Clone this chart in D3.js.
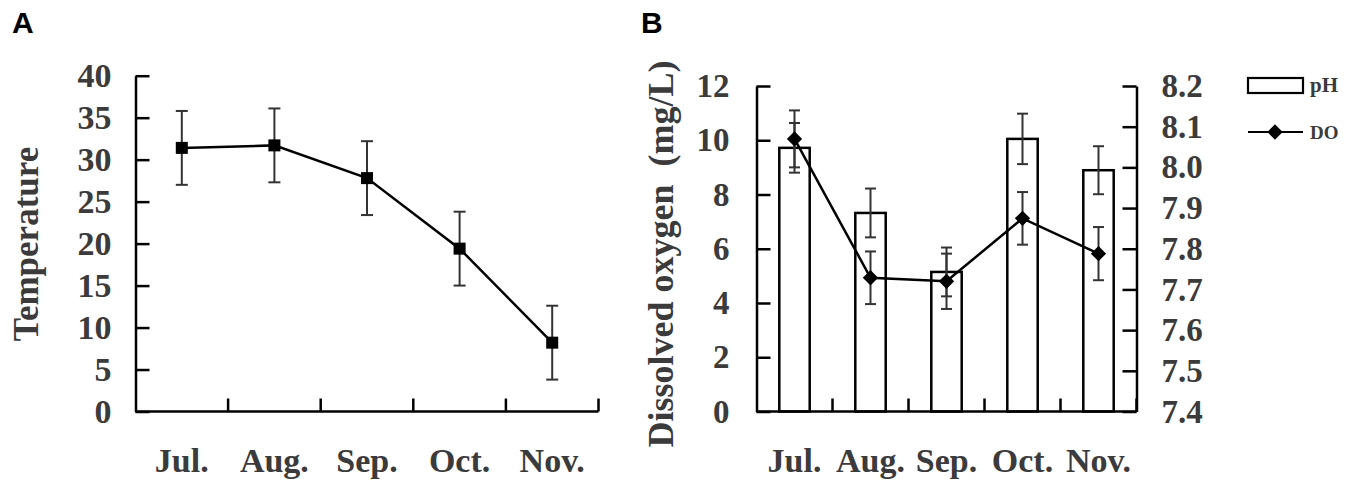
<!DOCTYPE html>
<html>
<head>
<meta charset="utf-8">
<script src="https://cdn.jsdelivr.net/npm/d3@7"></script>
<style>
  body { margin: 0; background: #fff; }
  svg text { font-family: "Liberation Serif", "Times New Roman", serif; font-weight: bold; fill: #3b3b3b; }
  .panel-tag { font-family: "Liberation Sans", Arial, sans-serif !important; fill: #000 !important; }
</style>
</head>
<body>
<div id="chart"></div>
<script>
// Months shared by both panels
var months = ["Jul.", "Aug.", "Sep.", "Oct.", "Nov."];

// Panel A: water temperature
var temperature = [31.4, 31.7, 27.8, 19.4, 8.2];
var temperatureErr = [4.4, 4.4, 4.4, 4.4, 4.4];
var tempTicks = [0, 5, 10, 15, 20, 25, 30, 35, 40];

// Panel B: pH (bars, right axis) and dissolved oxygen (line, left axis)
var pH = [8.048, 7.888, 7.743, 8.070, 7.993];
var pHErr = [0.061, 0.060, 0.060, 0.062, 0.059];
var dissolvedO2 = [10.05, 4.93, 4.80, 7.12, 5.82];
var dissolvedO2Err = [1.05, 0.97, 1.02, 0.97, 0.98];
var doTicks = [0, 2, 4, 6, 8, 10, 12];
var pHTicks = [7.4, 7.5, 7.6, 7.7, 7.8, 7.9, 8.0, 8.1, 8.2];

var svgWidth = 1350;
var svgHeight = 484;

var svg = d3.select("#chart")
  .append("svg")
  .attr("width", svgWidth)
  .attr("height", svgHeight);

var axisColor = "#000";
var errColor = "#333";

function styleAxis(g) {
  g.select(".domain").attr("stroke", axisColor).attr("stroke-width", 2.5);
  g.selectAll(".tick line").attr("stroke", axisColor).attr("stroke-width", 2.5);
  g.selectAll(".tick text").attr("font-size", 34);
}

// draws month labels under the axis and boundary ticks pointing up
function monthAxis(g, xBand, y0) {
  var step = xBand.step();
  var edges = d3.range(months.length + 1).map(i => xBand.range()[0] + i * step);

  g.append("line")
    .attr("x1", xBand.range()[0]).attr("x2", xBand.range()[1])
    .attr("y1", y0).attr("y2", y0)
    .attr("stroke", axisColor).attr("stroke-width", 2.5);

  g.selectAll(".edge")
    .data(edges.slice(1))
    .enter()
    .append("line")
    .attr("x1", d => d).attr("x2", d => d)
    .attr("y1", y0).attr("y2", y0 - 13)
    .attr("stroke", axisColor).attr("stroke-width", 2.5);

  g.selectAll(".mlabel")
    .data(months)
    .enter()
    .append("text")
    .attr("x", d => xBand(d) + xBand.bandwidth() / 2)
    .attr("y", y0 + 60)
    .attr("text-anchor", "middle")
    .attr("font-size", 34)
    .text(d => d);
}

function errorBars(g, xBand, yScale, values, errs, capHalf) {
  values.forEach(function(v, i) {
    var x = xBand(months[i]) + xBand.bandwidth() / 2;
    var top = yScale(v + errs[i]);
    var bot = yScale(v - errs[i]);
    g.append("line").attr("x1", x).attr("x2", x).attr("y1", top).attr("y2", bot)
      .attr("stroke", errColor).attr("stroke-width", 2);
    [top, bot].forEach(function(yy) {
      g.append("line").attr("x1", x - capHalf).attr("x2", x + capHalf).attr("y1", yy).attr("y2", yy)
        .attr("stroke", errColor).attr("stroke-width", 2);
    });
  });
}

// ---------------- Panel A ----------------
var a = { left: 135.5, right: 598.5, top: 75.7, bottom: 411.5 };
var gA = svg.append("g");

svg.append("text")
  .attr("class", "panel-tag")
  .attr("x", 12).attr("y", 33)
  .attr("font-size", 30)
  .text("A");

var xA = d3.scaleBand().domain(months).range([a.left, a.right]);
var yA = d3.scaleLinear().domain([0, 40]).range([a.bottom, a.top]);

var yAxisA = gA.append("g")
  .attr("transform", `translate(${a.left},0)`)
  .call(d3.axisLeft(yA).tickValues(tempTicks).tickSizeInner(-14).tickSizeOuter(0).tickPadding(24));
styleAxis(yAxisA);

monthAxis(gA, xA, a.bottom);

errorBars(gA, xA, yA, temperature, temperatureErr, 6);

var lineA = d3.line()
  .x((d, i) => xA(months[i]) + xA.bandwidth() / 2)
  .y(d => yA(d));

gA.append("path")
  .datum(temperature)
  .attr("d", lineA)
  .attr("fill", "none")
  .attr("stroke", "#000")
  .attr("stroke-width", 2.5);

gA.selectAll(".sq")
  .data(temperature)
  .enter()
  .append("rect")
  .attr("x", (d, i) => xA(months[i]) + xA.bandwidth() / 2 - 6)
  .attr("y", d => yA(d) - 6)
  .attr("width", 12)
  .attr("height", 12)
  .attr("fill", "#000");

gA.append("text")
  .attr("transform", "translate(38, 244) rotate(-90)")
  .attr("text-anchor", "middle")
  .attr("font-size", 35)
  .text("Temperature");

// ---------------- Panel B ----------------
var b = { left: 756.5, right: 1136.5, top: 86, bottom: 411.5 };
var gB = svg.append("g");

svg.append("text")
  .attr("class", "panel-tag")
  .attr("x", 641).attr("y", 33)
  .attr("font-size", 30)
  .text("B");

var xB = d3.scaleBand().domain(months).range([b.left, b.right]);
var yDO = d3.scaleLinear().domain([0, 12]).range([b.bottom, b.top]);
var yPH = d3.scaleLinear().domain([7.4, 8.2]).range([b.bottom, b.top]);
var barW = xB.bandwidth() * 0.4;

// pH bars
gB.selectAll(".bar")
  .data(pH)
  .enter()
  .append("rect")
  .attr("x", (d, i) => xB(months[i]) + xB.bandwidth() / 2 - barW / 2)
  .attr("y", d => yPH(d))
  .attr("width", barW)
  .attr("height", d => b.bottom - yPH(d))
  .attr("fill", "#fff")
  .attr("stroke", "#000")
  .attr("stroke-width", 2.5);

errorBars(gB, xB, yPH, pH, pHErr, 5.5);
errorBars(gB, xB, yDO, dissolvedO2, dissolvedO2Err, 5.5);

var yAxisBL = gB.append("g")
  .attr("transform", `translate(${b.left},0)`)
  .call(d3.axisLeft(yDO).tickValues(doTicks).tickSizeInner(-14).tickSizeOuter(0).tickPadding(27));
styleAxis(yAxisBL);
yAxisBL.selectAll(".tick text").attr("font-size", 33);

var yAxisBR = gB.append("g")
  .attr("transform", `translate(${b.right},0)`)
  .call(d3.axisRight(yPH).tickValues(pHTicks).tickFormat(d3.format(".1f")).tickSizeInner(-14).tickSizeOuter(0).tickPadding(25));
styleAxis(yAxisBR);
yAxisBR.selectAll(".tick text").attr("font-size", 33);

monthAxis(gB, xB, b.bottom);

var lineB = d3.line()
  .x((d, i) => xB(months[i]) + xB.bandwidth() / 2)
  .y(d => yDO(d));

gB.append("path")
  .datum(dissolvedO2)
  .attr("d", lineB)
  .attr("fill", "none")
  .attr("stroke", "#000")
  .attr("stroke-width", 2.5);

var diamond = d3.symbol().type(d3.symbolDiamond2).size(150);
gB.selectAll(".dia")
  .data(dissolvedO2)
  .enter()
  .append("path")
  .attr("d", diamond)
  .attr("transform", (d, i) => `translate(${xB(months[i]) + xB.bandwidth() / 2},${yDO(d)})`)
  .attr("fill", "#000");

gB.append("text")
  .attr("transform", "translate(673, 254) rotate(-90)")
  .attr("text-anchor", "middle")
  .attr("font-size", 36)
  .style("white-space", "pre")
  .text("Dissolved oxygen  (mg/L)");

// legend
var legend = svg.append("g").attr("transform", "translate(1248,78)");
legend.append("rect")
  .attr("x", 0).attr("y", 0).attr("width", 55).attr("height", 15)
  .attr("fill", "#fff").attr("stroke", "#000").attr("stroke-width", 2.2);
legend.append("text")
  .attr("x", 62).attr("y", 14)
  .attr("font-size", 21)
  .text("pH");
legend.append("line")
  .attr("x1", 0).attr("x2", 55).attr("y1", 54).attr("y2", 54)
  .attr("stroke", "#000").attr("stroke-width", 2.2);
legend.append("path")
  .attr("d", diamond)
  .attr("transform", "translate(27,54)")
  .attr("fill", "#000");
legend.append("text")
  .attr("x", 62).attr("y", 61)
  .attr("font-size", 19)
  .text("DO");
</script>
</body>
</html>
